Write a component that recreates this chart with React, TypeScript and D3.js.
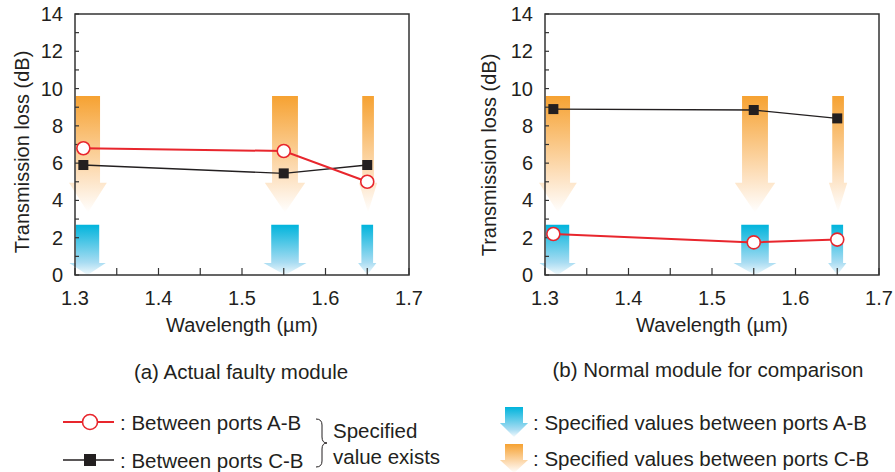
import React from "react";
import * as d3 from "d3";

// measured wavelengths (µm)
const wavelengths = [1.31, 1.55, 1.65];

// (a) actual faulty module
const faultyAB = [6.8, 6.65, 5.0];
const faultyCB = [5.9, 5.45, 5.9];

// (b) normal module for comparison
const normalAB = [2.2, 1.75, 1.9];
const normalCB = [8.9, 8.85, 8.4];

// spec bands (µm) drawn as arrows
const bandsCB: [number, number][] = [[1.301, 1.330], [1.536, 1.567], [1.644, 1.658]];
const bandsAB: [number, number][] = [[1.301, 1.329], [1.535, 1.568], [1.643, 1.657]];
const specMaxCB = 9.6;
const specMaxAB = 2.7;

const yTicks = d3.range(0, 15, 2);
const yMinor = d3.range(0, 15, 1);
const xTicks = [1.3, 1.4, 1.5, 1.6, 1.7];
const xMinor = d3.range(1.3, 1.7001, 0.05);

const FONT = "'Liberation Sans', Arial, Helvetica, sans-serif";
const INK = "#231f20";
const RED = "#e8262d";

function arrowPath(x0: number, x1: number, yTop: number, yBody: number, yTip: number) {
  const over = (x1 - x0) * 0.28;
  const cx = (x0 + x1) / 2;
  return `M${x0},${yTop}H${x1}V${yBody}H${x1 + over}L${cx},${yTip}L${x0 - over},${yBody}H${x0}Z`;
}

function Panel({ left, ab, cb, caption, captionX, captionY, titleX, titleY }: any) {
  const x = d3.scaleLinear().domain([1.3, 1.7]).range([left, left + 334]);
  const y = d3.scaleLinear().domain([0, 14]).range([275, 14]);
  const line = d3
    .line<number>()
    .x((_, i) => x(wavelengths[i]))
    .y((d) => y(d));

  return (
    <g>
      {bandsCB.map((b, i) => (
        <path
          key={"o" + i}
          d={arrowPath(x(b[0]), x(b[1]), y(specMaxCB), y(4.95), y(3.35))}
          fill="url(#gOrange)"
        />
      ))}
      {bandsAB.map((b, i) => (
        <path
          key={"b" + i}
          d={arrowPath(x(b[0]), x(b[1]), y(specMaxAB), y(0.65), y(0))}
          fill="url(#gBlue)"
        />
      ))}
      <rect x={left} y={y(14)} width={334} height={y(0) - y(14)} fill="none" stroke="#333" strokeWidth={1.5} />
      {yMinor.map((t) => (
        <line key={"ym" + t} x1={left} x2={left + 4} y1={y(t)} y2={y(t)} stroke="#333" strokeWidth={1.2} />
      ))}
      {xMinor.map((t, i) => (
        <line key={"xm" + i} x1={x(t)} x2={x(t)} y1={y(0)} y2={y(0) - 7} stroke="#333" strokeWidth={1.2} />
      ))}
      {yTicks.map((t) => (
        <text key={"yt" + t} x={left - 12} y={y(t)} textAnchor="end" dominantBaseline="central" fontSize={20} fill={INK}>
          {t}
        </text>
      ))}
      {xTicks.map((t) => (
        <text key={"xt" + t} x={x(t)} y={298} textAnchor="middle" dominantBaseline="central" fontSize={20} fill={INK}>
          {t.toFixed(1)}
        </text>
      ))}
      <text
        transform={`translate(${titleX},${titleY}) rotate(-90)`}
        textAnchor="middle"
        dominantBaseline="central"
        fontSize={20}
        fill={INK}
      >
        Transmission loss (dB)
      </text>
      <text x={left + 167} y={325} textAnchor="middle" dominantBaseline="central" fontSize={20} fill={INK}>
        Wavelength (µm)
      </text>
      <text x={captionX} y={captionY} textAnchor="middle" dominantBaseline="central" fontSize={20.5} fill={INK}>
        {caption}
      </text>

      <path d={line(cb) || ""} fill="none" stroke={INK} strokeWidth={1.3} />
      <path d={line(ab) || ""} fill="none" stroke={RED} strokeWidth={2} />
      {cb.map((v: number, i: number) => (
        <rect key={"s" + i} x={x(wavelengths[i]) - 5} y={y(v) - 5} width={10} height={10} fill={INK} />
      ))}
      {ab.map((v: number, i: number) => (
        <circle key={"c" + i} cx={x(wavelengths[i])} cy={y(v)} r={6.5} fill="#fff" stroke={RED} strokeWidth={1.6} />
      ))}
    </g>
  );
}

export default function App() {
  return (
    <svg width={895} height={472} style={{ position: "absolute", left: 0, top: 0, fontFamily: FONT }}>
      <defs>
        <linearGradient id="gOrange" x1="0" y1="0" x2="0" y2="1">
          <stop offset="0" stopColor="#f6a232" />
          <stop offset="0.7" stopColor="#fde2c2" />
          <stop offset="1" stopColor="#ffffff" />
        </linearGradient>
        <linearGradient id="gBlue" x1="0" y1="0" x2="0" y2="1">
          <stop offset="0" stopColor="#00b4dc" />
          <stop offset="0.75" stopColor="#a8dcf2" />
          <stop offset="1" stopColor="#f2fafd" />
        </linearGradient>
      </defs>
      <rect width={895} height={472} fill="#fff" />

      <Panel left={75} ab={faultyAB} cb={faultyCB} caption="(a) Actual faulty module" captionX={241} captionY={371} titleX={22} titleY={152} />
      <Panel left={545} ab={normalAB} cb={normalCB} caption="(b) Normal module for comparison" captionX={708} captionY={369} titleX={489} titleY={155} />

      {/* legend: series */}
      <line x1={63} x2={114} y1={422} y2={422} stroke={RED} strokeWidth={2} />
      <circle cx={90} cy={422} r={7.5} fill="#fff" stroke={RED} strokeWidth={1.6} />
      <text x={120} y={422} dominantBaseline="central" fontSize={20.5} fill={INK}>: Between ports A-B</text>
      <line x1={63} x2={114} y1={460} y2={460} stroke={INK} strokeWidth={1.5} />
      <rect x={84} y={454} width={12} height={12} fill={INK} />
      <text x={120} y={460} dominantBaseline="central" fontSize={20.5} fill={INK}>: Between ports C-B</text>
      <path
        d="M316,419 Q322,419 322,425 V437 Q322,443 327,443 Q322,443 322,449 V461 Q322,467 316,467"
        fill="none"
        stroke={INK}
        strokeWidth={1}
      />
      <text x={333} y={430} dominantBaseline="central" fontSize={20.5} fill={INK}>Specified</text>
      <text x={333} y={456} dominantBaseline="central" fontSize={20.5} fill={INK}>value exists</text>

      {/* legend: spec arrows */}
      <path d={arrowPath(505, 523, 407, 423, 437)} fill="url(#gBlue)" />
      <text x={533} y={422} dominantBaseline="central" fontSize={20.5} fill={INK}>: Specified values between ports A-B</text>
      <path d={arrowPath(505, 523, 444, 460, 473)} fill="url(#gOrange)" />
      <text x={533} y={458} dominantBaseline="central" fontSize={20.5} fill={INK}>: Specified values between ports C-B</text>
    </svg>
  );
}
